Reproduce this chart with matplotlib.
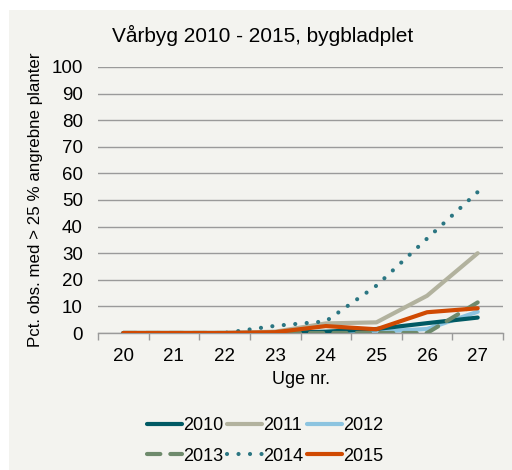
import matplotlib
matplotlib.use("Agg")
import matplotlib.pyplot as plt
from matplotlib.patches import Rectangle

plt.rcParams['font.family'] = ['Liberation Sans', 'DejaVu Sans']

# Uger og andel marker (%) med > 25 % angrebne planter
weeks = [20, 21, 22, 23, 24, 25, 26, 27]
y2010 = [0, 0, 0, 0, 0.5, 1.5, 3.7, 5.8]
y2011 = [0, 0, 0, 0.5, 3.6, 4.0, 14.0, 30.0]
y2012 = [0, 0, 0, 0, 0, 0.5, 1.5, 8.0]
y2013 = [0, 0, 0, 0, 0, 0, 0, 11.5]
y2014 = [0, 0, 0, 2.7, 4.4, 17.8, 35.5, 53.0]
y2015 = [0, 0, 0, 0.3, 2.6, 1.4, 7.8, 9.3]

bg = '#F3F3EF'
fig = plt.figure(figsize=(5.12, 4.7), dpi=100, facecolor='white')
fig.patches.append(Rectangle((9 / 512, 0), 1, 1 - 10 / 470, transform=fig.transFigure,
                             facecolor=bg, edgecolor='none', zorder=-10))
ax = fig.add_axes([98 / 512, 137 / 470, 405 / 512, 266 / 470])
ax.set_facecolor(bg)

x = list(range(len(weeks)))
lw = 3.0
l10, = ax.plot(x, y2010, color='#005A64', lw=lw, solid_capstyle='round', label='2010', zorder=3)
l11, = ax.plot(x, y2011, color='#B2B29E', lw=lw, solid_capstyle='round', label='2011', zorder=3)
l12, = ax.plot(x, y2012, color='#8CC4E0', lw=lw, solid_capstyle='round', label='2012', zorder=2)
l13, = ax.plot(x, y2013, color='#6E8A6C', lw=lw, dashes=(3.2, 2.4), dash_capstyle='round',
               label='2013', zorder=3)
l14, = ax.plot(x, y2014, color='#2B7682', lw=lw, dashes=(0.01, 2.75), dash_capstyle='round',
               label='2014', zorder=3)
l15, = ax.plot(x, y2015, color='#D04A02', lw=lw, solid_capstyle='round', label='2015', zorder=4)

ax.set_xlim(-0.5, len(weeks) - 0.5)
ax.set_ylim(0, 100)
ax.set_yticks(range(0, 101, 10))
ax.yaxis.grid(True, color='#9A9A9A', lw=1.0)
ax.set_axisbelow(True)
for s in ['top', 'right', 'left']:
    ax.spines[s].set_visible(False)
ax.spines['bottom'].set_color('#9A9A9A')
ax.spines['bottom'].set_linewidth(1.0)
ax.tick_params(axis='y', length=0, labelsize=13.5, pad=11)
ax.set_xticks(x)
ax.set_xticklabels([str(w) for w in weeks])
ax.tick_params(axis='x', which='major', length=0, labelsize=13.5, pad=11)
ax.set_xticks([i - 0.5 for i in range(len(weeks) + 1)], minor=True)
ax.tick_params(axis='x', which='minor', length=5, color='#9A9A9A', width=1.0)

ax.set_xlabel('Uge nr.', fontsize=13, labelpad=4)
ax.set_ylabel('Pct. obs. med > 25 % angrebne planter', fontsize=12.2, labelpad=6)
fig.text(263 / 512, 1 - 35 / 470, 'Vårbyg 2010 - 2015, bygbladplet', ha='center',
         va='center', fontsize=15)

# legend in row order: 2010 2011 2012 / 2013 2014 2015
handles = [l10, l13, l11, l14, l12, l15]
ax.legend(handles, [h.get_label() for h in handles], loc='center',
          bbox_to_anchor=(265 / 512, 1 - 441 / 470), bbox_transform=fig.transFigure,
          ncol=3, frameon=False, fontsize=13, handlelength=1.95, handletextpad=0.05,
          columnspacing=0.2, labelspacing=0.75, borderpad=0)

fig.savefig('out.png', dpi=100, facecolor='white')
